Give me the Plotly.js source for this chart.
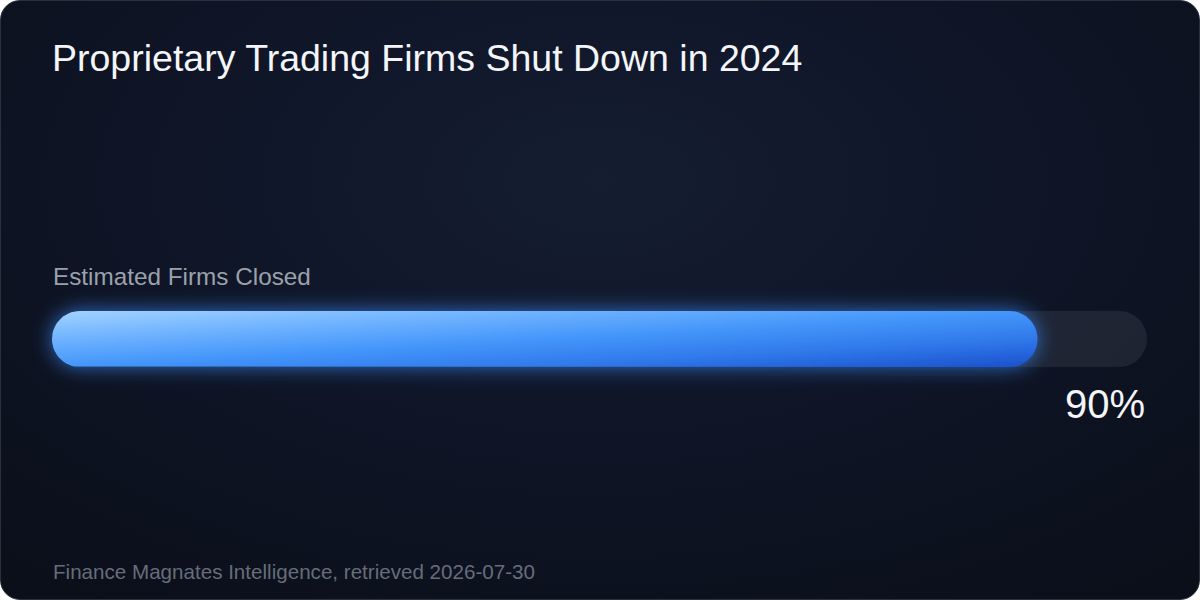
<!DOCTYPE html>
<html>
<head>
<meta charset="utf-8">
<script src="https://cdn.plot.ly/plotly-3.0.1.min.js"></script>
<style>
  html, body { margin:0; padding:0; background:#ffffff; width:1200px; height:600px; overflow:hidden; }
  #card {
    position:absolute; left:0; top:0; width:1198px; height:598px;
    border:1px solid #2a303c; border-radius:20px;
    background: radial-gradient(ellipse 75% 85% at 50% 30%, #151d30 0%, #10172a 35%, #0b0f1a 100%);
    overflow:hidden;
  }
  #chart { position:absolute; left:0; top:0; width:1200px; height:600px; }
</style>
</head>
<body>
<div id="card"></div>
<div id="chart"></div>
<script>
// ---- data ----
const titleText = "Proprietary Trading Firms Shut Down in 2024";
const categories = ["Estimated Firms Closed"];
const values = [90];
const maxValue = [100];
const valueLabels = ["90%"];
const sourceText = "Finance Magnates Intelligence, retrieved 2026-07-30";

// ---- geometry (pixel layout) ----
const W = 1200, H = 600;
const trackLeftPx = 52, trackRightPx = 1147;
const plotL = 20, plotR = 1180;
const barCenterPx = 339, halfPlotH = 140;
const plotTop = barCenterPx - halfPlotH, plotBot = barCenterPx + halfPlotH;
const barHalf = 28;              // half height of bar in y units (1 unit = 1 px)
const pxPerUnit = (trackRightPx - trackLeftPx) / maxValue[0];
const xMin = -(trackLeftPx - plotL) / pxPerUnit;
const xMax = maxValue[0] + (plotR - trackRightPx) / pxPerUnit;

function pill(v) {
  const rx = barHalf / pxPerUnit, ry = barHalf;
  const xs = [], ys = [];
  const n = 30;
  for (let i = 0; i <= n; i++) {         // right cap
    const a = Math.PI / 2 - Math.PI * i / n;
    xs.push(v - rx + rx * Math.cos(a)); ys.push(ry * Math.sin(a));
  }
  for (let i = 0; i <= n; i++) {         // left cap
    const a = -Math.PI / 2 - Math.PI * i / n;
    xs.push(rx + rx * Math.cos(a)); ys.push(ry * Math.sin(a));
  }
  xs.push(xs[0]); ys.push(ys[0]);
  return {xs, ys};
}

const track = pill(maxValue[0]);
const bar = pill(values[0]);

const traces = [
  { x: track.xs, y: track.ys, type:'scatter', mode:'lines', fill:'toself',
    fillcolor:'rgba(255,255,255,0.075)', line:{width:0, color:'rgba(0,0,0,0)'},
    hoverinfo:'skip', showlegend:false, name:'track' },
  { x: bar.xs, y: bar.ys, type:'scatter', mode:'lines', fill:'toself',
    fillcolor:'#4396fa', line:{width:0, color:'rgba(0,0,0,0)'},
    hoverinfo:'skip', showlegend:false, name: categories[0] }
];

const fontFam = '"Liberation Sans", Arial, Helvetica, sans-serif';
function paperY(px) { return (plotBot - px) / (plotBot - plotTop); }

const layout = {
  width: W, height: H,
  paper_bgcolor:'rgba(0,0,0,0)', plot_bgcolor:'rgba(0,0,0,0)',
  margin:{l:plotL, r:W - plotR, t:plotTop, b:H - plotBot, pad:0},
  showlegend:false,
  title:{ text:titleText, xref:'container', yref:'container', x:52/W, xanchor:'left',
          y:1 - 58/H, yanchor:'middle', font:{family:fontFam, size:37.5, color:'#f3f5f8'} },
  xaxis:{ range:[xMin, xMax], visible:false, fixedrange:true },
  yaxis:{ range:[-halfPlotH, halfPlotH], visible:false, fixedrange:true },
  annotations:[
    { text:categories[0], x:0, y:paperY(276), xref:'x', yref:'paper', xanchor:'left', yanchor:'middle',
      showarrow:false, xshift:-1, font:{family:fontFam, size:24.3, color:'#9aa1ad'} },
    { text:valueLabels[0], x:maxValue[0], y:paperY(404), xref:'x', yref:'paper', xanchor:'right', yanchor:'middle',
      showarrow:false, xshift:0, font:{family:fontFam, size:40, color:'#f3f5f8'} },
    { text:sourceText, x:0, y:paperY(571), xref:'x', yref:'paper', xanchor:'left', yanchor:'middle',
      showarrow:false, xshift:-1, font:{family:fontFam, size:20.6, color:'#666d79'} }
  ]
};

Plotly.newPlot('chart', traces, layout, {staticPlot:true, displayModeBar:false}).then(function(gd){
  const svg = gd.querySelector('svg.main-svg');
  const NS = 'http://www.w3.org/2000/svg';
  let defs = svg.querySelector('defs');
  if (!defs) { defs = document.createElementNS(NS,'defs'); svg.insertBefore(defs, svg.firstChild); }
  defs.insertAdjacentHTML('beforeend',
    '<linearGradient id="barGrad" x1="0" y1="0" x2="1" y2="1">' +
      '<stop offset="0" stop-color="#a3d3ff"/>' +
      '<stop offset="0.25" stop-color="#70b3ff"/>' +
      '<stop offset="0.5" stop-color="#4496fa"/>' +
      '<stop offset="0.75" stop-color="#2f78ea"/>' +
      '<stop offset="1" stop-color="#1b50cc"/>' +
    '</linearGradient>' +
    '<filter id="barGlow" x="-5%" y="-100%" width="110%" height="300%">' +
      '<feGaussianBlur in="SourceAlpha" stdDeviation="10" result="b"/>' +
      '<feFlood flood-color="#3b8cff" flood-opacity="0.75"/>' +
      '<feComposite in2="b" operator="in" result="g"/>' +
      '<feMerge><feMergeNode in="g"/><feMergeNode in="SourceGraphic"/></feMerge>' +
    '</filter>');
  const fills = gd.querySelectorAll('.scatterlayer .trace path.js-fill');
  if (fills.length >= 2) {
    const p = fills[1];
    p.style.fill = 'url(#barGrad)';
    p.setAttribute('filter', 'url(#barGlow)');
  }
});
</script>
</body>
</html>
